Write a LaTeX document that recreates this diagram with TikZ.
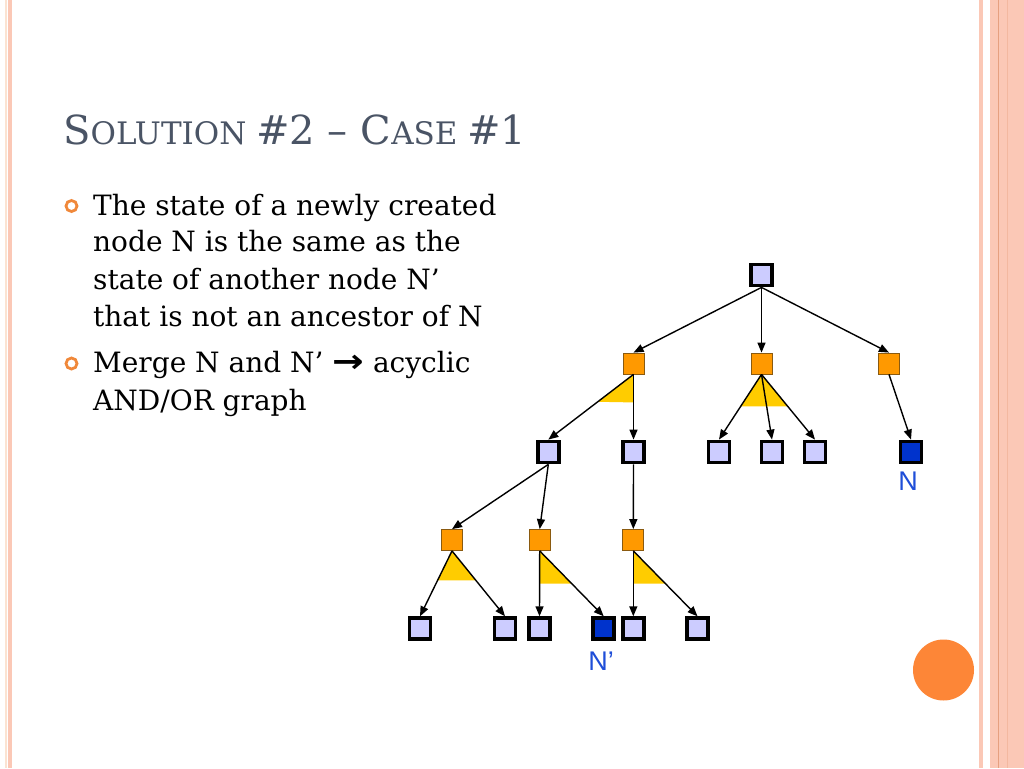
\documentclass[tikz,border=0pt]{standalone}
\usepackage{fontspec}
\setmainfont{DejaVu Serif}
\setsansfont{Liberation Sans}
\newfontfamily\arrowfont{DejaVu Sans}
\usetikzlibrary{arrows.meta,calc}
\definecolor{lav}{HTML}{CCCCFF}
\definecolor{andor}{HTML}{FF9900}
\definecolor{andedge}{HTML}{8A5A10}
\definecolor{wedge}{HTML}{FFCC00}
\definecolor{deep}{HTML}{0033CC}
\definecolor{lbl}{HTML}{1F4ED8}
\definecolor{ttl}{HTML}{4A5465}
\definecolor{bul}{HTML}{F0883A}
\definecolor{pinkband}{HTML}{FBC8B6}
\definecolor{creamline}{HTML}{FBE3D2}
\definecolor{darkline}{HTML}{E6A080}
\definecolor{disc}{HTML}{FD8637}
\tikzset{
  orbox/.style={draw=black, line width=3.8pt, fill=lav, minimum size=21pt, inner sep=0pt},
  goalbox/.style={orbox, fill=deep},
  andbox/.style={draw=andedge, line width=0.8pt, fill=andor, minimum size=21pt, inner sep=0pt},
  link/.style={-{Triangle[length=10pt,width=8pt]}, line width=1.4pt},
  wedgefill/.style={fill=wedge, draw=none},
  bodytext/.style={anchor=base west, font=\fontsize{28}{34}\selectfont, inner sep=0pt},
  bulletring/.style={circle, draw=bul, line width=2.8pt, minimum size=11pt, inner sep=0pt},
  nodelabel/.style={font=\sffamily\fontsize{27}{32}\selectfont, text=lbl, inner sep=0pt}
}
\begin{document}
\begin{tikzpicture}[x=1pt,y=-1pt]
\path[use as bounding box, fill=white] (0,0) rectangle (1024,768);
% side decorations
\fill[creamline] (5,0) rectangle (6.5,768);
\fill[pinkband] (8,0) rectangle (12,768);
\fill[pinkband] (979,0) rectangle (983,768);
\fill[pinkband] (990,0) rectangle (1024,768);
\draw[darkline, line width=1pt] (998.3,0) -- (998.3,768);
\draw[darkline!40!pinkband, line width=0.8pt] (1007.5,0) -- (1007.5,768);
\node[circle, fill=disc, minimum size=61pt, inner sep=0pt] (dot) at (943.5,670) {};

% title
\node[anchor=base west, text=ttl, inner sep=0pt] (title) at (63,144.5)
  {\fontsize{40}{46}\selectfont S\fontsize{31}{36}\selectfont OLUTION \fontsize{40}{46}\selectfont\#2 – C\fontsize{31}{36}\selectfont ASE \fontsize{40}{46}\selectfont\#1};

% bullets
\node[bulletring] (bu1) at (71.5,206) {};
\node[bulletring] (bu2) at (71.5,363.5) {};
\node[bodytext] (l1) at (93,215) {The state of a newly created};
\node[bodytext] (l2) at (93,251.7) {node N is the same as the};
\node[bodytext] (l3) at (93,289.5) {state of another node N’};
\node[bodytext] (l4) at (93,326.7) {that is not an ancestor of N};
\node[bodytext] (l5) at (93,372.7) {Merge N and N’ {\arrowfont\bfseries\scalebox{1.35}[1.15]{→}} acyclic};
\node[bodytext] (l6) at (93,410) {AND/OR graph};

% tree nodes
\node[orbox] (r) at (761.5,275) {};
\node[andbox] (a1) at (633.5,363.5) {};
\node[andbox] (a2) at (761.5,363.5) {};
\node[andbox] (a3) at (889,363.5) {};
\node[orbox] (b1) at (548.3,452) {};
\node[orbox] (b2) at (633.5,452) {};
\node[orbox] (b3) at (719,452) {};
\node[orbox] (b4) at (772,452) {};
\node[orbox] (b5) at (815,452) {};
\node[goalbox] (bn) at (911,452) {};
\node[andbox] (c1) at (452,540) {};
\node[andbox] (c2) at (539.7,540) {};
\node[andbox] (c3) at (633.3,540) {};
\node[orbox] (d1) at (420,628.7) {};
\node[orbox] (d2) at (505,628.7) {};
\node[orbox] (d3) at (539.5,628.7) {};
\node[goalbox] (dn) at (603.7,628.7) {};
\node[orbox] (d4) at (633.3,628.7) {};
\node[orbox] (d5) at (697.5,628.7) {};
\node[nodelabel] (labN) at (908,481) {N};
\node[nodelabel] (labNp) at (601,661) {N’};

% AND wedges
\fill[wedgefill] (a1.south) -- ($(a1.south)!0.42!(b1.north)$) -- ($(a1.south)!0.43!(b2.north)$) -- cycle;
\fill[wedgefill] (a2.south) -- ($(a2.south)!0.49!(b3.north)$) -- ($(a2.south)!0.49!(b5.north)$) -- cycle;
\fill[wedgefill] (c1.south) -- ($(c1.south)!0.45!(d1.north)$) -- ($(c1.south)!0.45!(d2.north)$) -- cycle;
\fill[wedgefill] (c2.south) -- ($(c2.south)!0.5!(d3.north)$) -- ($(c2.south)!0.5!(dn.north)$) -- cycle;
\fill[wedgefill] (c3.south) -- ($(c3.south)!0.5!(d4.north)$) -- ($(c3.south)!0.5!(d5.north)$) -- cycle;

% connectors
\draw[link] (r.south) -- (a1.north);
\draw[link] (r.south) -- (a2.north);
\draw[link] (r.south) -- (a3.north);
\draw[link] (a1.south) -- (b1.north);
\draw[link] (a1.south) -- (b2.north);
\draw[link] (a2.south) -- (b3.north);
\draw[link] (a2.south) -- (b4.north);
\draw[link] (a2.south) -- (b5.north);
\draw[link] (a3.south) -- (bn.north);
\draw[link] (b1.south) -- (c1.north);
\draw[link] (b1.south) -- (c2.north);
\draw[link] (b2.south) -- (c3.north);
\draw[link] (c1.south) -- (d1.north);
\draw[link] (c1.south) -- (d2.north);
\draw[link] (c2.south) -- (d3.north);
\draw[link] (c2.south) -- (dn.north);
\draw[link] (c3.south) -- (d4.north);
\draw[link] (c3.south) -- (d5.north);
\end{tikzpicture}
\end{document}
